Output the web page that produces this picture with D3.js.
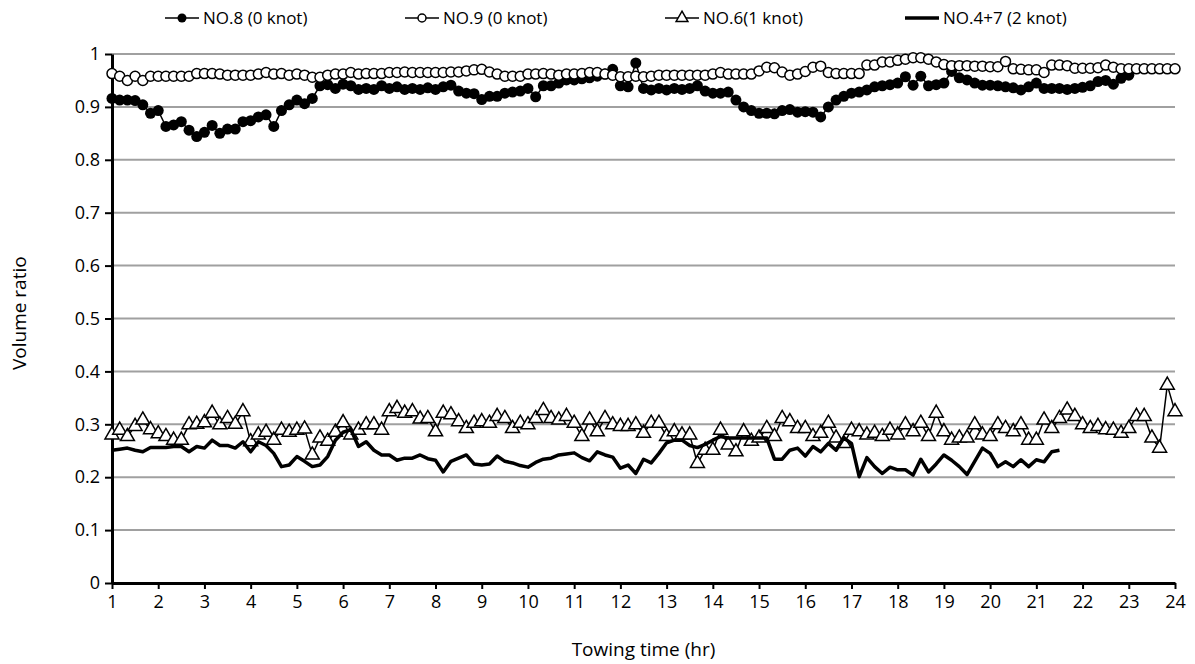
<!DOCTYPE html>
<html lang="en">
	<head>
		<meta charset="utf-8">
		<title>Volume ratio vs towing time</title>
		<script type="text/javascript" src="https://cdn.jsdelivr.net/npm/d3@7"></script>
		<style type="text/css">
			body { margin: 0; background: #fff; }
			text { font-family: "Open Sans", sans-serif; fill: #000; }
		</style>
	</head>
	<body>
		<script type="text/javascript">
			var w = 1195;
			var h = 664;

			// samples every 10 minutes, starting at hour 1
			var startHr = 1;
			var stepHr = 1 / 6;

			var xTicks = d3.range(1, 25);
			var yTicks = [0, 0.1, 0.2, 0.3, 0.4, 0.5, 0.6, 0.7, 0.8, 0.9, 1];

			var seriesNames = ["NO.8 (0 knot)", "NO.9 (0 knot)", "NO.6(1 knot)", "NO.4+7 (2 knot)"];

			var no8 = [0.916, 0.913, 0.913, 0.912, 0.904, 0.888, 0.893, 0.863, 0.866, 0.872,
				0.856, 0.844, 0.852, 0.865, 0.850, 0.858, 0.858, 0.872, 0.874, 0.881,
				0.885, 0.863, 0.893, 0.904, 0.913, 0.906, 0.916, 0.940, 0.942, 0.935,
				0.943, 0.940, 0.933, 0.935, 0.933, 0.940, 0.935, 0.938, 0.933, 0.935,
				0.933, 0.936, 0.933, 0.938, 0.941, 0.930, 0.926, 0.925, 0.914, 0.920,
				0.920, 0.926, 0.928, 0.930, 0.935, 0.919, 0.940, 0.940, 0.945, 0.951,
				0.951, 0.953, 0.955, 0.958, 0.962, 0.971, 0.940, 0.938, 0.983, 0.935,
				0.932, 0.935, 0.932, 0.935, 0.933, 0.935, 0.940, 0.930, 0.926, 0.926,
				0.928, 0.913, 0.900, 0.893, 0.888, 0.888, 0.887, 0.893, 0.895, 0.890,
				0.891, 0.890, 0.881, 0.900, 0.913, 0.920, 0.926, 0.928, 0.932, 0.938,
				0.940, 0.942, 0.945, 0.957, 0.941, 0.958, 0.940, 0.942, 0.945, 0.967,
				0.955, 0.951, 0.945, 0.941, 0.941, 0.940, 0.938, 0.936, 0.932, 0.938,
				0.945, 0.935, 0.935, 0.935, 0.933, 0.935, 0.937, 0.940, 0.948, 0.950,
				0.943, 0.954, 0.960];

			var no9 = [0.963, 0.958, 0.950, 0.958, 0.950, 0.958, 0.958, 0.958, 0.958, 0.958,
				0.958, 0.963, 0.963, 0.963, 0.962, 0.960, 0.960, 0.960, 0.960, 0.962,
				0.965, 0.962, 0.963, 0.960, 0.962, 0.960, 0.956, 0.956, 0.960, 0.962,
				0.962, 0.965, 0.962, 0.963, 0.963, 0.963, 0.965, 0.965, 0.966, 0.965,
				0.965, 0.965, 0.965, 0.965, 0.966, 0.966, 0.968, 0.970, 0.971, 0.966,
				0.962, 0.958, 0.958, 0.958, 0.962, 0.962, 0.963, 0.962, 0.960, 0.962,
				0.962, 0.963, 0.965, 0.965, 0.962, 0.960, 0.957, 0.957, 0.958, 0.957,
				0.958, 0.960, 0.960, 0.960, 0.960, 0.960, 0.960, 0.960, 0.962, 0.965,
				0.962, 0.962, 0.962, 0.962, 0.968, 0.975, 0.974, 0.966, 0.960, 0.962,
				0.967, 0.975, 0.977, 0.965, 0.963, 0.963, 0.963, 0.963, 0.979, 0.979,
				0.985, 0.985, 0.988, 0.990, 0.993, 0.993, 0.990, 0.985, 0.980, 0.978,
				0.978, 0.978, 0.977, 0.977, 0.976, 0.976, 0.986, 0.972, 0.971, 0.970,
				0.970, 0.965, 0.979, 0.979, 0.978, 0.973, 0.973, 0.973, 0.974, 0.979,
				0.975, 0.972, 0.972, 0.972, 0.972, 0.972, 0.972, 0.972, 0.972];

			var no6 = [0.280, 0.289, 0.277, 0.296, 0.308, 0.290, 0.282, 0.277, 0.270, 0.270,
				0.299, 0.300, 0.303, 0.321, 0.299, 0.311, 0.300, 0.324, 0.267, 0.280,
				0.285, 0.270, 0.289, 0.285, 0.289, 0.291, 0.242, 0.274, 0.268, 0.285,
				0.303, 0.280, 0.289, 0.299, 0.299, 0.289, 0.324, 0.330, 0.321, 0.324,
				0.310, 0.311, 0.286, 0.321, 0.318, 0.305, 0.292, 0.302, 0.305, 0.302,
				0.315, 0.311, 0.292, 0.302, 0.299, 0.311, 0.326, 0.311, 0.308, 0.315,
				0.302, 0.277, 0.308, 0.286, 0.311, 0.299, 0.296, 0.296, 0.299, 0.283,
				0.302, 0.302, 0.277, 0.286, 0.280, 0.280, 0.226, 0.251, 0.251, 0.289,
				0.261, 0.248, 0.286, 0.268, 0.274, 0.292, 0.277, 0.311, 0.305, 0.292,
				0.292, 0.277, 0.283, 0.302, 0.274, 0.264, 0.289, 0.286, 0.280, 0.283,
				0.277, 0.289, 0.280, 0.299, 0.286, 0.302, 0.277, 0.321, 0.286, 0.270,
				0.274, 0.274, 0.299, 0.280, 0.277, 0.299, 0.292, 0.286, 0.299, 0.270,
				0.270, 0.308, 0.292, 0.311, 0.327, 0.315, 0.299, 0.292, 0.296, 0.290,
				0.289, 0.283, 0.292, 0.315, 0.315, 0.274, 0.255, 0.374, 0.324];

			var no47 = [0.251, 0.253, 0.255, 0.251, 0.248, 0.256, 0.256, 0.256, 0.258, 0.258,
				0.248, 0.258, 0.255, 0.270, 0.260, 0.260, 0.255, 0.267, 0.248, 0.267,
				0.260, 0.245, 0.220, 0.223, 0.239, 0.230, 0.220, 0.223, 0.239, 0.270,
				0.285, 0.290, 0.258, 0.267, 0.251, 0.242, 0.242, 0.232, 0.236, 0.236,
				0.242, 0.235, 0.232, 0.210, 0.230, 0.236, 0.242, 0.225, 0.223, 0.225,
				0.240, 0.230, 0.227, 0.222, 0.219, 0.228, 0.234, 0.236, 0.242, 0.244,
				0.246, 0.237, 0.231, 0.248, 0.242, 0.238, 0.217, 0.223, 0.207, 0.234,
				0.227, 0.245, 0.265, 0.270, 0.270, 0.260, 0.256, 0.262, 0.270, 0.277,
				0.274, 0.274, 0.274, 0.274, 0.274, 0.274, 0.234, 0.234, 0.251, 0.255,
				0.240, 0.258, 0.248, 0.264, 0.251, 0.274, 0.264, 0.201, 0.237, 0.220,
				0.207, 0.219, 0.214, 0.214, 0.204, 0.234, 0.210, 0.225, 0.242, 0.232,
				0.220, 0.205, 0.230, 0.255, 0.245, 0.220, 0.229, 0.220, 0.233, 0.220,
				0.233, 0.229, 0.248, 0.251];

			function toPoints(values) {
				return values.map(function(v, i) {
					return { t: startHr + i * stepHr, v: v };
				});
			}

			var xScale = d3.scaleLinear()
							.domain([1, 24])
							.range([112, 1175]);
			var yScale = d3.scaleLinear()
							.domain([0, 1])
							.range([583, 54]);

			var svg = d3.select("body")
						.append("svg")
						.attr("width", w)
						.attr("height", h);

			//gridlines
			svg.append("g")
				.selectAll("line")
				.data(yTicks.slice(1))
				.enter()
				.append("line")
				.attr("x1", xScale(1))
				.attr("x2", xScale(24))
				.attr("y1", function(d) { return yScale(d); })
				.attr("y2", function(d) { return yScale(d); })
				.attr("stroke", "#a0a0a0")
				.attr("stroke-width", 2);

			//axes
			var xAxis = d3.axisBottom(xScale)
							.tickValues(xTicks)
							.tickFormat(d3.format("d"))
							.tickSize(6)
							.tickSizeOuter(0)
							.tickPadding(6);
			var yAxis = d3.axisLeft(yScale)
							.tickValues(yTicks)
							.tickFormat(function(d) { return d === 0 || d === 1 ? d : d.toFixed(1); })
							.tickSize(7)
							.tickSizeOuter(0)
							.tickPadding(5);

			var gx = svg.append("g")
						.attr("transform", "translate(0," + yScale(0) + ")")
						.call(xAxis);
			var gy = svg.append("g")
						.attr("transform", "translate(" + xScale(1) + ",0)")
						.call(yAxis);

			[gx, gy].forEach(function(g) {
				g.select(".domain").attr("stroke", "#000").attr("stroke-width", 3);
				g.selectAll(".tick line").attr("stroke", "#000").attr("stroke-width", 2);
				g.selectAll(".tick text")
					.attr("font-family", "'Open Sans', sans-serif")
					.attr("font-size", "18px")
					.attr("fill", "#000");
			});

			var line = d3.line()
						.x(function(d) { return xScale(d.t); })
						.y(function(d) { return yScale(d.v); });

			//NO.8 filled circles
			var p8 = toPoints(no8);
			svg.append("path")
				.attr("d", line(p8))
				.attr("fill", "none")
				.attr("stroke", "#000")
				.attr("stroke-width", 1.5);
			svg.append("g")
				.selectAll("circle")
				.data(p8)
				.enter()
				.append("circle")
				.attr("cx", function(d) { return xScale(d.t); })
				.attr("cy", function(d) { return yScale(d.v); })
				.attr("r", 5.5)
				.attr("fill", "#000");

			//NO.9 open circles
			var p9 = toPoints(no9);
			svg.append("path")
				.attr("d", line(p9))
				.attr("fill", "none")
				.attr("stroke", "#000")
				.attr("stroke-width", 1.5);
			svg.append("g")
				.selectAll("circle")
				.data(p9)
				.enter()
				.append("circle")
				.attr("cx", function(d) { return xScale(d.t); })
				.attr("cy", function(d) { return yScale(d.v); })
				.attr("r", 5)
				.attr("fill", "#fff")
				.attr("stroke", "#000")
				.attr("stroke-width", 1.5);

			//NO.6 open triangles
			var p6 = toPoints(no6);
			var tri = d3.symbol().type(d3.symbolTriangle).size(85);
			svg.append("path")
				.attr("d", line(p6))
				.attr("fill", "none")
				.attr("stroke", "#000")
				.attr("stroke-width", 1.5);
			svg.append("g")
				.selectAll("path")
				.data(p6)
				.enter()
				.append("path")
				.attr("d", tri)
				.attr("transform", function(d) {
					return "translate(" + xScale(d.t) + "," + yScale(d.v) + ")";
				})
				.attr("fill", "#fff")
				.attr("stroke", "#000")
				.attr("stroke-width", 1.5);

			//NO.4+7 thick line
			svg.append("path")
				.attr("d", line(toPoints(no47)))
				.attr("fill", "none")
				.attr("stroke", "#000")
				.attr("stroke-width", 3.5)
				.attr("stroke-linejoin", "round");

			//legend
			var legendX = [165, 405, 665, 905];
			var legend = svg.append("g")
							.selectAll("g")
							.data(seriesNames)
							.enter()
							.append("g")
							.attr("transform", function(d, i) {
								return "translate(" + legendX[i] + ",18)";
							});
			legend.append("line")
				.attr("x1", 0)
				.attr("x2", 34)
				.attr("stroke", "#000")
				.attr("stroke-width", function(d, i) { return i === 3 ? 3.5 : 1.5; });
			legend.each(function(d, i) {
				var g = d3.select(this);
				if (i === 0) {
					g.append("circle").attr("cx", 17).attr("r", 4.5).attr("fill", "#000");
				} else if (i === 1) {
					g.append("circle").attr("cx", 17).attr("r", 4)
						.attr("fill", "#fff").attr("stroke", "#000").attr("stroke-width", 1.5);
				} else if (i === 2) {
					g.append("path").attr("d", d3.symbol().type(d3.symbolTriangle).size(60))
						.attr("transform", "translate(17,0)")
						.attr("fill", "#fff").attr("stroke", "#000").attr("stroke-width", 1.5);
				}
			});
			legend.append("text")
				.attr("x", 38)
				.attr("dy", "0.35em")
				.attr("font-size", "17px")
				.text(function(d) { return d; });

			//axis titles
			svg.append("text")
				.attr("x", (xScale(1) + xScale(24)) / 2)
				.attr("y", 656)
				.attr("text-anchor", "middle")
				.attr("font-size", "19px")
				.text("Towing time (hr)");
			svg.append("text")
				.attr("transform", "translate(26," + yScale(0.51) + ") rotate(-90)")
				.attr("text-anchor", "middle")
				.attr("font-size", "19px")
				.text("Volume ratio");
		</script>
	</body>
</html>
